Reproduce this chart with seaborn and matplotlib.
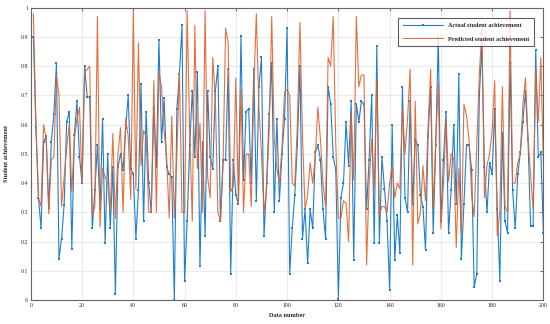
import numpy as np
import pandas as pd
import seaborn as sns
import matplotlib
matplotlib.use("Agg")
import matplotlib.pyplot as plt

# actual vs predicted achievement
actual = [0.90, 0.59, 0.35, 0.245, 0.54, 0.56, 0.315, 0.54, 0.635, 0.81, 0.14, 0.21, 0.325, 0.61, 0.645, 0.175, 0.565, 0.68, 0.49, 0.40, 0.80, 0.695, 0.695, 0.245, 0.375, 0.53,
          0.31, 0.62, 0.195, 0.50, 0.245, 0.455, 0.02, 0.455, 0.50, 0.445, 0.59, 0.70, 0.45, 0.43, 0.21, 0.375, 0.74, 0.27, 0.645, 0.40, 0.30, 0.66, 0.455, 0.89,
          0.54, 0.69, 0.455, 0.43, 0.42, 0.0, 0.655, 0.775, 0.94, 0.065, 0.27, 0.53, 0.715, 0.49, 0.78, 0.115, 0.54, 0.22, 0.715, 0.49, 0.45, 0.715, 0.80, 0.27, 0.48,
          0.48, 0.79, 0.09, 0.48, 0.36, 0.33, 0.905, 0.41, 0.645, 0.655, 0.40, 0.79, 0.34, 0.73, 0.83, 0.22, 0.40, 0.635, 0.81, 0.30, 0.62, 0.34, 0.50, 0.62, 0.93, 0.09,
          0.245, 0.36, 0.53, 0.80, 0.21, 0.31, 0.125, 0.31, 0.245, 0.505, 0.53, 0.48, 0.31, 0.21, 0.73, 0.67, 0.49, 0.445, 0.005, 0.35, 0.40, 0.61, 0.46, 0.68, 0.137,
          0.67, 0.61, 0.68, 0.67, 0.31, 0.48, 0.70, 0.195, 0.87, 0.195, 0.49, 0.38, 0.27, 0.035, 0.60, 0.137, 0.29, 0.16, 0.73, 0.35, 0.30, 0.68, 0.33, 0.55, 0.53,
          0.36, 0.32, 0.17, 0.56, 0.73, 0.23, 0.53, 0.90, 0.27, 0.48, 0.645, 0.23, 0.375, 0.60, 0.33, 0.775, 0.14, 0.33, 0.53, 0.53, 0.445, 0.045, 0.09, 0.70, 0.87,
          0.455, 0.30, 0.47, 0.43, 0.655, 0.31, 0.065, 0.57, 0.27, 0.23, 0.81, 0.375, 0.245, 0.43, 0.505, 0.61, 0.715, 0.55, 0.255, 0.255, 0.855, 0.49, 0.505, 0.23]

predicted = [0.98, 0.60, 0.35, 0.32, 0.60, 0.55, 0.295, 0.48, 0.49, 0.77, 0.70, 0.32, 0.42, 0.52, 0.60, 0.37, 0.55, 0.62, 0.66, 0.40, 0.78, 0.79, 0.80, 0.29, 0.32, 0.97,
             0.25, 0.45, 0.42, 0.40, 0.30, 0.57, 0.28, 0.50, 0.59, 0.30, 0.62, 0.56, 0.345, 0.99, 0.38, 0.88, 0.46, 0.58, 0.56, 0.30, 0.30, 0.75, 0.30, 0.78,
             0.73, 0.58, 0.49, 0.28, 0.63, 0.28, 0.50, 0.78, 0.30, 0.30, 0.99, 0.57, 0.27, 0.94, 0.45, 0.605, 0.30, 0.99, 0.42, 0.35, 0.83, 0.69, 0.30, 0.27, 0.46,
             0.93, 0.88, 0.37, 0.39, 0.76, 0.33, 0.72, 0.30, 0.50, 0.50, 0.32, 0.72, 0.98, 0.66, 0.50, 0.30, 0.38, 0.58, 0.97, 0.55, 0.45, 0.40, 0.52, 0.71, 0.72, 0.70,
             0.40, 0.39, 0.60, 0.95, 0.56, 0.31, 0.36, 0.47, 0.40, 0.49, 0.66, 0.55, 0.40, 0.32, 0.83, 0.80, 0.97, 0.53, 0.28, 0.28, 0.34, 0.33, 0.20, 0.64, 0.41,
             0.97, 0.73, 0.77, 0.77, 0.12, 0.40, 0.55, 0.38, 0.76, 0.29, 0.32, 0.32, 0.30, 0.40, 0.46, 0.35, 0.40, 0.38, 0.66, 0.50, 0.62, 0.79, 0.12, 0.68, 0.26,
             0.30, 0.46, 0.34, 0.59, 0.79, 0.31, 0.55, 0.74, 0.245, 0.39, 0.62, 0.405, 0.50, 0.485, 0.18, 0.45, 0.23, 0.67, 0.63, 0.55, 0.36, 0.285, 0.525, 0.77, 0.93,
             0.35, 0.46, 0.50, 0.58, 0.75, 0.22, 0.30, 0.73, 0.32, 0.30, 0.99, 0.40, 0.40, 0.47, 0.50, 0.67, 0.76, 0.55, 0.43, 0.31, 0.79, 0.61, 0.83, 0.46]

data_number = np.arange(1, len(actual) + 1)
x_ticks = [0, 20, 40, 60, 80, 100, 120, 140, 160, 180, 200]
y_ticks = [0, 0.1, 0.2, 0.3, 0.4, 0.5, 0.6, 0.7, 0.8, 0.9, 1]
y_labels = ["0", "0.1", "0.2", "0.3", "0.4", "0.5", "0.6", "0.7", "0.8", "0.9", "1"]

df = pd.DataFrame({"n": data_number, "actual": actual, "predicted": predicted})

sns.set_style("whitegrid")
plt.rcParams["font.family"] = ["Liberation Serif", "DejaVu Serif"]

fig = plt.figure(figsize=(5.5, 3.24), dpi=100)
ax = fig.add_axes([0.056, 0.074, 0.932, 0.902])

sns.lineplot(x="n", y="actual", data=df, ax=ax, color="#1f7fcc", linewidth=0.8,
             marker="s", markersize=1.6, markeredgewidth=0, label="Actual student achievement")
sns.lineplot(x="n", y="predicted", data=df, ax=ax, color="#e0622a", linewidth=0.8,
             alpha=0.9, label="Predicted student achievement")

ax.set_xlim(0, 200)
ax.set_ylim(0, 1)
ax.set_xticks(x_ticks)
ax.set_xticklabels([str(t) for t in x_ticks])
ax.set_yticks(y_ticks)
ax.set_yticklabels(y_labels)
ax.tick_params(labelsize=4.2, direction="in", length=2.5, width=0.6, color="#555555",
               top=True, right=True, pad=2)
ax.grid(color="#e6e6e6", linewidth=0.6)
for s in ax.spines.values():
    s.set_color("#666666")
    s.set_linewidth(0.8)

ax.set_xlabel("Data number", fontsize=4.6, fontweight="bold", labelpad=4)
ax.set_ylabel("Student achievement", fontsize=4.6, fontweight="bold", labelpad=8)

leg = ax.legend(loc="upper right", bbox_to_anchor=(0.988, 0.975),
                frameon=True, fancybox=False, handlelength=6.5, borderpad=0.8,
                labelspacing=1.3, prop={"size": 4.4, "weight": "bold"})
leg.get_frame().set_edgecolor("#333333")
leg.get_frame().set_linewidth(0.8)

fig.savefig("out.png", dpi=100)
